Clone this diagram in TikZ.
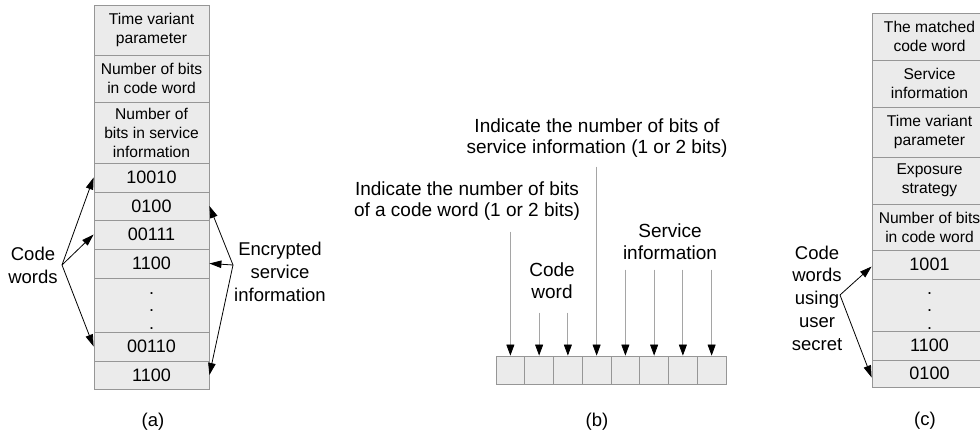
\documentclass[tikz,border=0pt]{standalone}
\usepackage{fontspec}
\setmainfont{Liberation Sans}
\usetikzlibrary{arrows.meta}
\definecolor{cellfill}{RGB}{235,235,235}
\definecolor{cellline}{RGB}{150,150,150}
\definecolor{lightline}{RGB}{165,165,165}
\newcommand{\vdotsrow}{\rule{0pt}{14pt}.\\.\\.}
\begin{document}
\begin{tikzpicture}[x=1pt,y=-1pt,
  cell/.style={draw=cellline, fill=cellfill, line width=0.8pt, minimum width=115pt, inner sep=0pt, align=center, font=\fontsize{15.6}{19}\selectfont},
  num/.style={cell, font=\fontsize{18}{17.5}\selectfont},
  arr/.style={-{Triangle[length=12pt,width=7.5pt]}, line width=0.8pt},
  barr/.style={draw=lightline, line width=0.8pt, -{Triangle[length=11pt,width=8pt,color=black,fill=black]}},
  lbl/.style={align=center, inner sep=0pt, font=\fontsize{18.5}{23}\selectfont},
  btxt/.style={align=center, inner sep=0pt, font=\fontsize{19}{21.7}\selectfont},
  bcell/.style={draw=cellline, fill=cellfill, line width=0.8pt, minimum width=28.75pt, minimum height=28pt, inner sep=0pt}
]
\useasboundingbox (0,0) rectangle (980,438);

% ---------- panel (a) ----------
\node[cell, minimum height=50pt] (a1) at (151.5,30) {Time variant\\parameter};
\node[cell, minimum height=47pt] (a2) at (151.5,78.5) {Number of bits\\in code word};
\node[cell, minimum height=61pt] (a3) at (151.5,132.5) {Number of\\bits in service\\information};
\node[num, minimum height=29pt] (a4) at (151.5,177.5) {10010};
\node[num, minimum height=28pt] (a5) at (151.5,206) {0100};
\node[num, minimum height=29pt] (a6) at (151.5,234.5) {00111};
\node[num, minimum height=29pt] (a7) at (151.5,263.5) {1100};
\node[num, minimum height=54pt] (a8) at (151.5,305) {\vdotsrow};
\node[num, minimum height=29pt] (a9) at (151.5,346.5) {00110};
\node[num, minimum height=28pt] (a10) at (151.5,375) {1100};

\node[lbl] (cw) at (33,265) {Code\\words};
\coordinate (cwo) at (62,265);
\draw[arr] (cwo) -- (a4.west);
\draw[arr] (cwo) -- (a6.west);
\draw[arr] (cwo) -- (a9.west);

\node[lbl] (esi) at (280,272) {Encrypted\\service\\information};
\coordinate (esio) at (233,265);
\draw[arr] (esio) -- (a5.east);
\draw[arr] (esio) -- (a7.east);
\draw[arr] (esio) -- (a10.east);

\node[lbl] (la) at (153,422) {(a)};

% ---------- panel (b) ----------
\foreach \i in {1,...,8}{
  \node[bcell] (b\i) at ({496+28.75*(\i-0.5)},370) {};
}
\node[btxt] (t1) at (597,138) {Indicate the number of bits of\\service information (1 or 2 bits)};
\node[btxt] (t2) at (467,201) {Indicate the number of bits\\of a code word (1 or 2 bits)};
\node[btxt] (t3) at (552,281) {Code\\word};
\node[btxt] (t4) at (670,242) {Service\\information};

\path (b1.north) ++(0,-124) coordinate (s1);
\path (b2.north) ++(0,-43) coordinate (s2);
\path (b3.north) ++(0,-43) coordinate (s3);
\path (b4.north) ++(0,-189) coordinate (s4);
\foreach \i in {5,...,8}{ \path (b\i.north) ++(0,-86) coordinate (s\i); }
\foreach \i in {1,...,8}{ \draw[barr] (s\i) -- (b\i.north); }

\node[lbl] (lb) at (597,422) {(b)};

% ---------- panel (c) ----------
\node[cell, minimum height=47pt] (c1) at (929.5,36.5) {The matched\\code word};
\node[cell, minimum height=47pt] (c2) at (929.5,83.5) {Service\\information};
\node[cell, minimum height=50pt] (c3) at (929.5,132) {Time variant\\parameter};
\node[cell, minimum height=47pt] (c4) at (929.5,180.5) {Exposure\\strategy};
\node[cell, minimum height=46pt] (c5) at (929.5,227) {Number of bits\\in code word};
\node[num, minimum height=29pt] (c6) at (929.5,264.5) {1001};
\node[num, minimum height=52pt] (c7) at (929.5,305) {\vdotsrow};
\node[num, minimum height=29pt] (c8) at (929.5,345.5) {1100};
\node[num, minimum height=27pt] (c9) at (929.5,373.5) {0100};

\node[lbl, font=\fontsize{18.5}{22.8}\selectfont] (cwu) at (817,298) {Code\\words\\using\\user\\secret};
\coordinate (cwuo) at (840,295);
\draw[arr] (cwuo) -- ([yshift=-2pt]c6.west);
\draw[arr] (cwuo) -- ([yshift=-4pt]c9.west);

\node[lbl] (lc) at (925,421) {(c)};
\end{tikzpicture}
\end{document}
